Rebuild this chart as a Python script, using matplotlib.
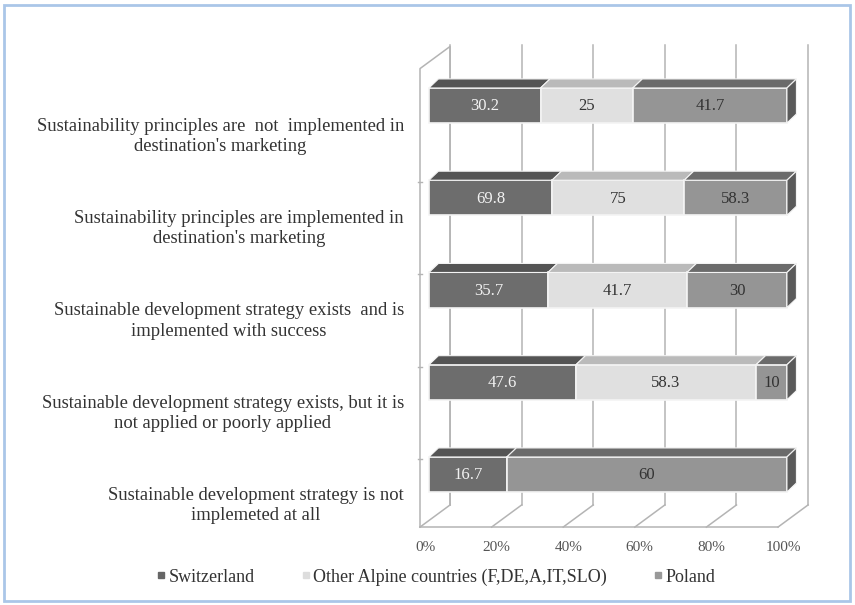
import numpy as np
import matplotlib.pyplot as plt
from matplotlib.patches import Polygon, Rectangle
from matplotlib.lines import Line2D
from matplotlib.font_manager import FontProperties

# Data (top row first)
categories = [
    "Sustainability principles are  not  implemented in\ndestination's marketing",
    "Sustainability principles are implemented in\ndestination's marketing",
    "Sustainable development strategy exists  and is\nimplemented with success",
    "Sustainable development strategy exists, but it is\nnot applied or poorly applied",
    "Sustainable development strategy is not\nimplemeted at all",
]
series_names = ["Switzerland", "Other Alpine countries (F,DE,A,IT,SLO)", "Poland"]
switzerland = [30.2, 69.8, 35.7, 47.6, 16.7]
other_alpine = [25, 75, 41.7, 58.3, 0]
poland = [41.7, 58.3, 30, 10, 60]
tick_labels = ["0%", "20%", "40%", "60%", "80%", "100%"]

front_colors = ["#6d6d6d", "#e0e0e0", "#959595"]
top_colors = ["#545454", "#bababa", "#6b6b6b"]
side_color = "#5a5a5a"
text_colors = ["#f2f2f2", "#333333", "#333333"]
legend_colors = ["#666666", "#dddddd", "#999999"]

plt.rcParams["font.family"] = ["Liberation Serif", "DejaVu Serif"]

W, H = 855, 605
fig = plt.figure(figsize=(W / 100, H / 100), dpi=100)
ax = fig.add_axes([0, 0, 1, 1])

# pixel layout -> data mapping (x in percent, y in rows)
PX0, PX_PER = 420.0, 3.58
PY0, PY_PER = 105.5, 92.25
ax.set_xlim(-PX0 / PX_PER, (W - PX0) / PX_PER)
ax.set_ylim((H - PY0) / PY_PER, -PY0 / PY_PER)
ax.axis("off")

# 3D box geometry
DXW, DYW = 8.4, -0.24          # wall depth
FLOOR_Y = 4.57
TOP_Y = -0.40
BAR_SHIFT = 2.5
DXB, DYB = 2.65, -0.098        # bar depth
BAR_H = 0.38
grid_c = "#b4b4b4"

# left wall
ax.plot([0, 0, DXW, DXW], [FLOOR_Y, TOP_Y, TOP_Y + DYW, FLOOR_Y + DYW],
        color=grid_c, lw=1.1, zorder=1)
# back wall gridlines and floor
for p in range(0, 101, 20):
    ax.plot([p + DXW, p + DXW], [FLOOR_Y + DYW, TOP_Y + DYW - 0.02],
            color=grid_c, lw=1.1, zorder=1)
    ax.plot([p, p + DXW], [FLOOR_Y, FLOOR_Y + DYW], color=grid_c, lw=1.1, zorder=1)
ax.plot([0, 100], [FLOOR_Y, FLOOR_Y], color=grid_c, lw=1.1, zorder=1)
# small marks on left wall between rows
for i in range(1, 5):
    ax.plot([-0.6, 0.6], [i - 0.5 + 0.33, i - 0.5 + 0.33], color=grid_c, lw=1, zorder=1)

data = np.array([switzerland, other_alpine, poland], dtype=float)
pct = data / data.sum(axis=0) * 100
y = np.arange(len(categories))

for i in range(len(categories)):
    left = BAR_SHIFT
    top = y[i] - BAR_H / 2
    bot = y[i] + BAR_H / 2
    for s in range(3):
        w = pct[s, i]
        if w <= 0:
            continue
        ax.barh(y[i], w, left=left, height=BAR_H, color=front_colors[s],
                edgecolor="#f4f4f4", lw=1.2, zorder=3)
        ax.add_patch(Polygon([(left, top), (left + w, top), (left + w + DXB, top + DYB),
                              (left + DXB, top + DYB)], closed=True,
                             facecolor=top_colors[s], edgecolor="#f4f4f4", lw=0.8, zorder=3))
        ax.text(left + w / 2, y[i] + 0.01, f"{data[s, i]:g}", ha="center", va="center",
                fontsize=12, color=text_colors[s], zorder=5)
        left += w
    ax.add_patch(Polygon([(left, top), (left + DXB, top + DYB), (left + DXB, bot + DYB),
                          (left, bot)], closed=True, facecolor=side_color,
                         edgecolor="#f4f4f4", lw=0.8, zorder=3))
    # light left end
    ax.add_patch(Polygon([(BAR_SHIFT, top), (BAR_SHIFT + DXB * 0.6, top + DYB * 0.6),
                          (BAR_SHIFT + DXB * 0.6, bot + DYB * 0.6), (BAR_SHIFT, bot)],
                         closed=True, facecolor="#e6e6e6", edgecolor="none", zorder=2))
    # category label
    ax.text(-4.5, y[i] + 0.335, categories[i], ha="right", va="center",
            multialignment="center", fontsize=13.4, color="#333333", linespacing=1.25)

# x tick labels
for k, lab in enumerate(tick_labels):
    ax.text(k * 20 + 1.4, 4.79, lab, ha="center", va="center", fontsize=11, color="#555555")

# legend
handles = [Line2D([0], [0], marker="s", ls="none", markersize=5,
                  markerfacecolor=c, markeredgecolor=c) for c in legend_colors]
leg_font = FontProperties(family=["Liberation Serif", "DejaVu Serif"], size=13)
fig.legend(handles, series_names, loc="center", bbox_to_anchor=(436 / W, 1 - 577 / H),
           ncol=3, frameon=False, prop=leg_font, handlelength=0.5, handletextpad=0.15,
           columnspacing=2.6, labelcolor="#333333")

# outer frame
fig.patches.append(Rectangle((4 / W, 4 / H), 846 / W, 596 / H, transform=fig.transFigure,
                             facecolor="none", edgecolor="#aac6e8", lw=2.0))

fig.savefig("out.png", dpi=100)
